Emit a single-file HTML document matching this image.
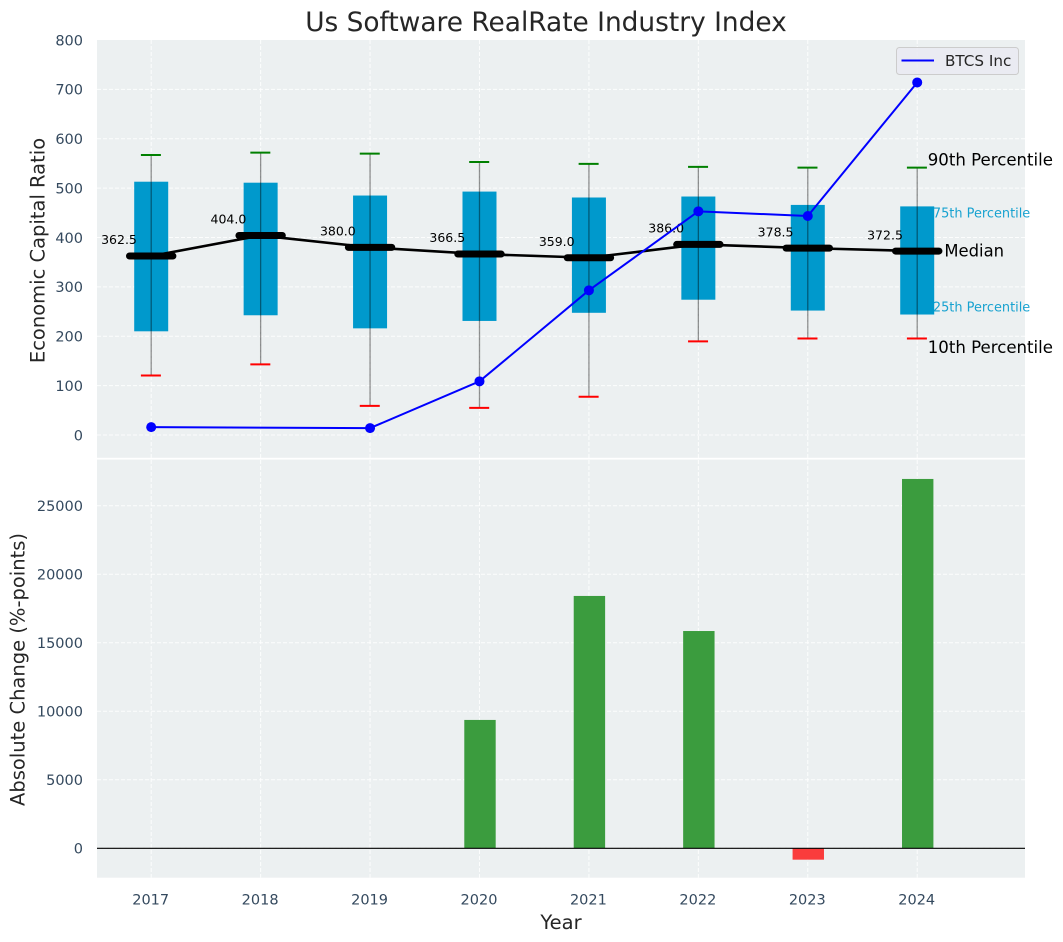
<!DOCTYPE html>
<html lang="en">
<head>
<meta charset="utf-8">
<title>Us Software RealRate Industry Index</title>
<style>
html,body{margin:0;padding:0;background:#fff;}
svg{display:block;font-family:"DejaVu Sans","Liberation Sans",sans-serif;}
.tick{font-size:14.5px;fill:#34495e;}
.axis{font-size:19.5px;fill:#262626;}
</style>
</head>
<body>
<svg id="chart" xmlns="http://www.w3.org/2000/svg" width="1063" height="942" viewBox="0 0 1063 942">
  <rect x="97" y="40" width="928" height="837.7" fill="#ecf0f1"/>
  <g id="grid"></g>
  <rect x="97" y="457.8" width="928" height="1.8" fill="#ffffff"/>
  <g id="marks"></g>
  <g id="labels"></g>
  <text x="546" y="31" text-anchor="middle" font-size="26.4px" fill="#262626">Us Software RealRate Industry Index</text>
  <text transform="translate(44.3 250.5) rotate(-90)" text-anchor="middle" class="axis">Economic Capital Ratio</text>
  <text transform="translate(24.5 669.5) rotate(-90)" text-anchor="middle" class="axis">Absolute Change (%-points)</text>
  <text x="561" y="929" text-anchor="middle" class="axis">Year</text>
  <g>
    <rect x="896.5" y="47.5" width="122" height="27" rx="3" fill="#eaeaf2" fill-opacity="0.85" stroke="#cccccc"/>
    <line x1="901.5" x2="934" y1="60.5" y2="60.5" stroke="#0000ff" stroke-width="2"/>
    <text x="945" y="66" font-size="15.2px" fill="#262626">BTCS Inc</text>
  </g>
</svg>
<script>
const years = [2017, 2018, 2019, 2020, 2021, 2022, 2023, 2024];
const p90 = [567, 572, 570, 553, 549, 543, 541.5, 541.5];
const p75 = [513, 511, 485, 493, 481, 483, 466, 463];
const medians = [362.5, 404.0, 380.0, 366.5, 359.0, 386.0, 378.5, 372.5];
const p25 = [210, 242.5, 216, 231, 247.5, 274, 252, 244];
const p10 = [120.5, 143, 59, 55, 77.5, 189.5, 195.5, 195.5];
const companyValues = [16, null, 14, 108.7, 293, 453, 443.5, 714];
const changeValues = [null, null, null, 9370, 18420, 15860, -830, 26960];
const topTicks = [0, 100, 200, 300, 400, 500, 600, 700, 800];
const bottomTicks = [0, 5000, 10000, 15000, 20000, 25000];

const NS = 'http://www.w3.org/2000/svg';
const grid = document.getElementById('grid');
const marks = document.getElementById('marks');
const labels = document.getElementById('labels');

function xAt(year) { return 151.2 + (year - 2017) * 109.43; }
function yTop(v) { return 435 - v * 0.49375; }
function yBottom(v) { return 848.3 - v * 0.0137; }

function make(parent, tag, attrs, content) {
  const el = document.createElementNS(NS, tag);
  for (const k in attrs) el.setAttribute(k, attrs[k]);
  if (content !== undefined) el.textContent = content;
  parent.appendChild(el);
  return el;
}

const gridStyle = { stroke: '#ffffff', 'stroke-opacity': 0.85, 'stroke-width': 1, 'stroke-dasharray': '4 2' };

years.forEach(function (yr) {
  const line = make(grid, 'line', Object.assign({ x1: xAt(yr), x2: xAt(yr), y1: 40, y2: 877.7 }, gridStyle));
  
  
  const label = make(labels, 'text', { x: xAt(yr) - 0.5, y: 904.5, 'text-anchor': 'middle', class: 'tick' }, String(yr));
  
  
});

topTicks.forEach(function (t) {
  if (t < 800) {
    const line = make(grid, 'line', Object.assign({ x1: 97, x2: 1025, y1: yTop(t), y2: yTop(t) }, gridStyle));
    
    
  }
  const label = make(labels, 'text', { x: 83, y: yTop(t) + 5.3, 'text-anchor': 'end', class: 'tick' }, String(t));
  
  
});

bottomTicks.forEach(function (t) {
  const line = make(grid, 'line', Object.assign({ x1: 97, x2: 1025, y1: yBottom(t), y2: yBottom(t) }, gridStyle));
  
  
  const label = make(labels, 'text', { x: 83, y: yBottom(t) + 5.3, 'text-anchor': 'end', class: 'tick' }, String(t));
  
  
});

/* boxes */
years.forEach(function (yr, i) {
  const x = xAt(yr);
  const box = make(marks, 'rect', { x: x - 17, y: yTop(p75[i]), width: 34, height: yTop(p25[i]) - yTop(p75[i]), fill: '#0099cc' });
  
  
});

/* whiskers and caps */
years.forEach(function (yr, i) {
  const x = xAt(yr);
  const stem = make(marks, 'line', { x1: x, x2: x, y1: yTop(p90[i]), y2: yTop(p10[i]), stroke: '#000000', 'stroke-opacity': 0.42, 'stroke-width': 1.3 });
  
  
  const capHigh = make(marks, 'line', { x1: x - 10.3, x2: x + 9.7, y1: yTop(p90[i]), y2: yTop(p90[i]), stroke: '#008000', 'stroke-width': 2 });
  
  
  const capLow = make(marks, 'line', { x1: x - 10.3, x2: x + 9.7, y1: yTop(p10[i]), y2: yTop(p10[i]), stroke: '#ff0000', 'stroke-width': 2 });
  
  
});

/* median trend line and thick median bars */
const medianPath = make(marks, 'polyline', {
  points: years.map(function (yr, i) { return xAt(yr) + ',' + yTop(medians[i]); }).join(' '),
  fill: 'none', stroke: '#000000', 'stroke-width': 2.6, 'stroke-linejoin': 'round'
});



years.forEach(function (yr, i) {
  const x = xAt(yr);
  const bar = make(marks, 'line', { x1: x - 21.7, x2: x + 21.7, y1: yTop(medians[i]), y2: yTop(medians[i]), stroke: '#000000', 'stroke-width': 7, 'stroke-linecap': 'round' });
  
  
  const label = make(marks, 'text', { x: x - 32.2, y: yTop(medians[i]) - 11.8, 'text-anchor': 'middle', 'font-size': '12.5px', fill: '#000000' }, medians[i].toFixed(1));
  
  
});

/* company series */
const companyPoints = [];
years.forEach(function (yr, i) {
  if (companyValues[i] !== null) companyPoints.push([xAt(yr), yTop(companyValues[i])]);
});
const companyLine = make(marks, 'polyline', {
  points: companyPoints.map(function (p) { return p[0] + ',' + p[1]; }).join(' '),
  fill: 'none', stroke: '#0000ff', 'stroke-width': 2, 'stroke-linejoin': 'round'
});


companyPoints.forEach(function (p) {
  const dot = make(marks, 'circle', { cx: p[0], cy: p[1], r: 5, fill: '#0000ff' });
  
  
});

/* percentile annotations beside the final year */
const last = years.length - 1;
const lastX = xAt(years[last]);
const note90 = make(marks, 'text', { x: lastX + 10.5, y: yTop(p90[last]) - 2, 'font-size': '16.6px', fill: '#000000' }, '90th Percentile');


const note75 = make(marks, 'text', { x: lastX + 15.7, y: yTop(p75[last]) + 11, 'font-size': '12.9px', fill: '#0099cc', 'fill-opacity': 0.9 }, '75th Percentile');


const noteMedian = make(marks, 'text', { x: lastX + 27.2, y: yTop(medians[last]) + 5.5, 'font-size': '16.4px', fill: '#000000' }, 'Median');


const note25 = make(marks, 'text', { x: lastX + 15.7, y: yTop(p25[last]) - 3, 'font-size': '12.9px', fill: '#0099cc', 'fill-opacity': 0.9 }, '25th Percentile');


const note10 = make(marks, 'text', { x: lastX + 10.5, y: yTop(p10[last]) + 14.5, 'font-size': '16.6px', fill: '#000000' }, '10th Percentile');



/* change bars */
years.forEach(function (yr, i) {
  const v = changeValues[i];
  if (v === null) return;
  const y0 = yBottom(0), y1 = yBottom(v);
  const bar = make(marks, 'rect', {
    x: xAt(yr) - 15.2, width: 31.4, y: Math.min(y0, y1), height: Math.abs(y1 - y0),
    fill: v >= 0 ? '#3b9c3e' : '#fa3c3c'
  });
  
  
});

const zeroLine = make(marks, 'line', { x1: 97, x2: 1025, y1: yBottom(0), y2: yBottom(0), stroke: '#000000', 'stroke-width': 1.2 });


</script>
</body>
</html>
